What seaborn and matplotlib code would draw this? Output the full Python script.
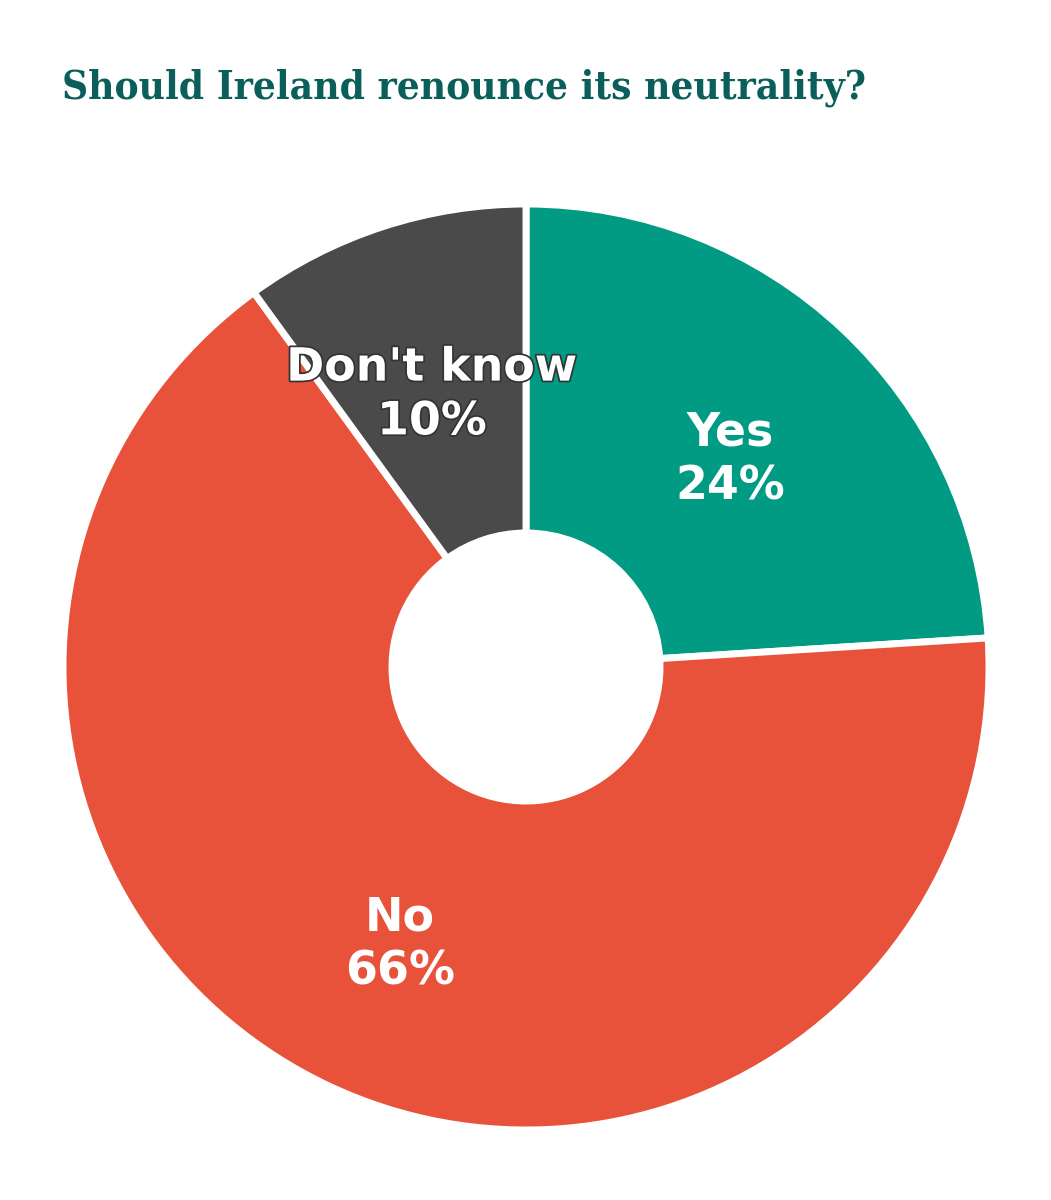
import matplotlib
matplotlib.use('Agg')
import matplotlib.pyplot as plt
import matplotlib.patheffects as pe
import seaborn as sns

categories = ["Yes", "No", "Don't know"]
shares = [24, 66, 10]
colors = ["#009b82", "#e8513a", "#4a4a4a"]

sns.set_theme(style="white")
plt.rcParams['font.family'] = ['DejaVu Sans']

fig = plt.figure(figsize=(10.51, 12), dpi=100)
ax = fig.add_axes([0, 0, 1, 1])
ax.set_xlim(0, 1051)
ax.set_ylim(0, 1200)
ax.axis('off')

cx, cy, r_out, r_in = 526, 1200 - 667, 463, 134
ax.pie(shares, colors=colors, startangle=90, counterclock=False,
       center=(cx, cy), radius=r_out, frame=True,
       wedgeprops=dict(width=r_out - r_in, edgecolor='white', linewidth=5))
ax.set_xlim(0, 1051)
ax.set_ylim(0, 1200)
ax.axis('off')

# label positions (pixel coords from top)
label_pos = [(730, 460), (400, 945), (432, 395)]
for cat, val, (x, y) in zip(categories, shares, label_pos):
    t = ax.text(x, 1200 - y, f"{cat}\n{val}%", ha='center', va='center',
                color='white', fontsize=33, fontweight='bold', linespacing=1.25)
    if cat == "Don't know":
        t.set_path_effects([pe.withStroke(linewidth=2.5, foreground='#333333')])

fig.text(62 / 1051, 1 - 88 / 1200, "Should Ireland renounce its neutrality?",
         ha='left', va='center', color='#0b5f5a', fontsize=29,
         fontweight='bold', family='DejaVu Serif', fontstretch='condensed')

fig.savefig("out.png", dpi=100, facecolor='white')
